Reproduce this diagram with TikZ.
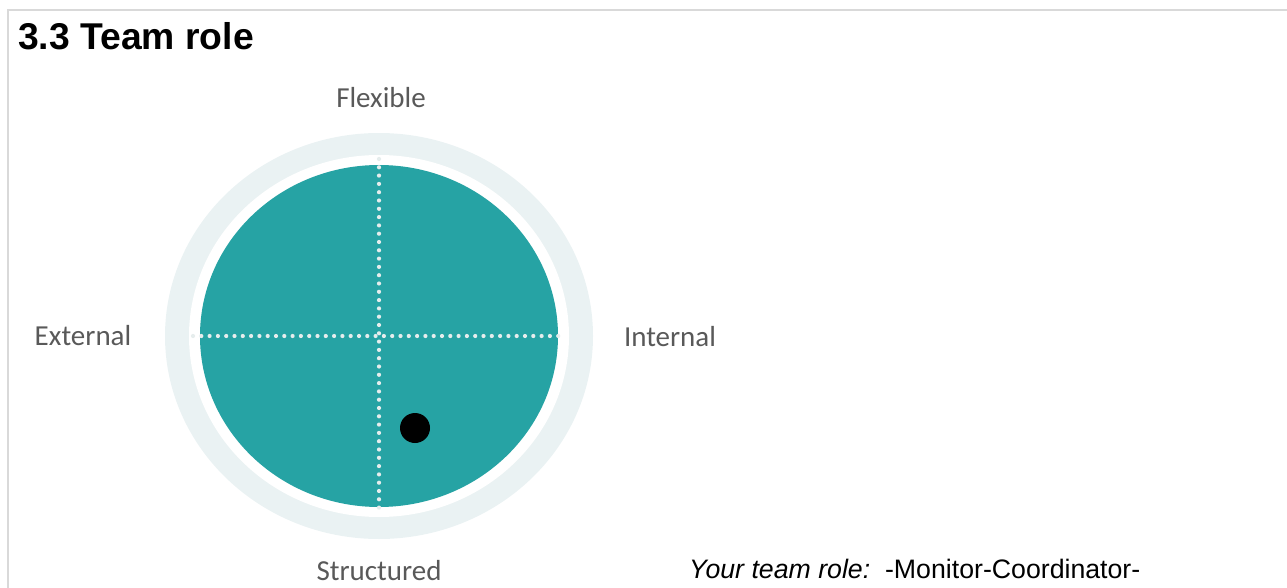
\documentclass[tikz,border=0pt]{standalone}
\usepackage{fontspec}
\setmainfont{Liberation Sans}
\newfontfamily\axisfont{Carlito}
\definecolor{teal role}{HTML}{26A3A4}
\definecolor{ring role}{HTML}{EAF2F3}
\definecolor{dot role}{HTML}{E6EDED}
\definecolor{axis gray}{HTML}{595959}
\definecolor{frame gray}{HTML}{D9D9D9}
\begin{document}
\begin{tikzpicture}[x=1pt,y=-1pt,
  axis label/.style={font=\axisfont\fontsize{29}{34}\selectfont,text=axis gray,inner sep=0pt},
  dot line/.style={draw=dot role,line width=4.2pt,line cap=round,dash pattern=on 0pt off 8.3pt}]%
  \useasboundingbox (0,0) rectangle (1287,588);
  \pgfmathsetmacro{\cx}{379}
  \pgfmathsetmacro{\cy}{336}
  % frame
  \draw[frame gray,line width=1.6pt] (8,588) -- (8,10) -- (1287,10);
  \node[anchor=base west,inner sep=0pt,font=\bfseries\fontsize{37.3}{42}\selectfont] (title) at (18,50) {3.3 Team role};
  % circle
  \fill[ring role] (\cx,\cy) ellipse [x radius=214, y radius=203];
  \fill[white] (\cx,\cy) ellipse [x radius=190, y radius=181];
  \fill[teal role] (\cx,\cy) ellipse [x radius=179, y radius=171];
  \draw[dot line] (193,\cy) -- (566,\cy);
  \draw[dot line] (\cx,159) -- (\cx,514);
  \fill (415,428) circle [radius=15];
  % axis labels
  \node[axis label] (flex) at (381,98) {Flexible};
  \node[axis label] (ext) at (83,336) {External};
  \node[axis label] (int) at (670,337) {Internal};
  \node[axis label] (struc) at (379,571) {Structured};
  \node[anchor=base west,inner sep=0pt,font=\fontsize{26.7}{31}\selectfont] (role) at (689,578) {\textit{Your team role:}\ \ -Monitor-Coordinator-};
\end{tikzpicture}
\end{document}
